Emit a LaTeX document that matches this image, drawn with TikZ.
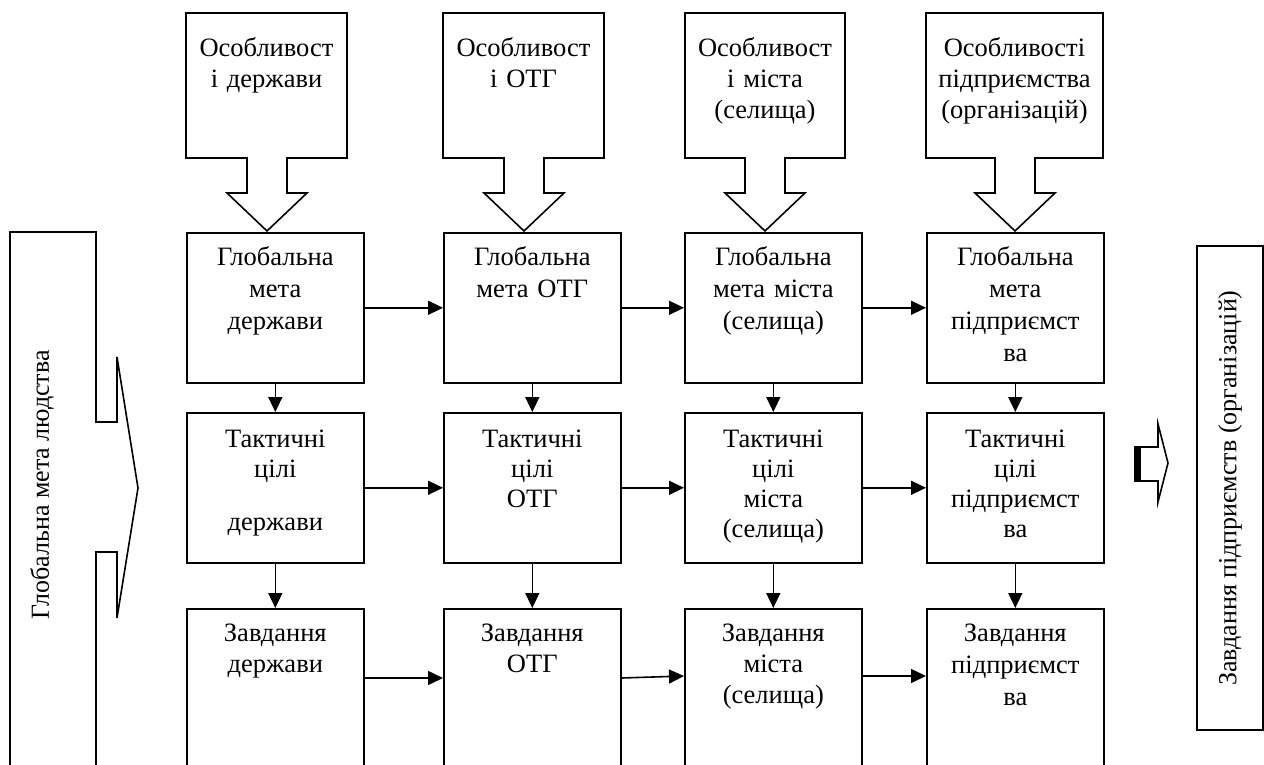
\documentclass[tikz,border=0pt]{standalone}
\usepackage{fontspec}
\setmainfont{Liberation Serif}
\usetikzlibrary{arrows.meta,positioning}

\tikzset{
  caja/.style={draw, line width=1.6pt, minimum width=177pt, minimum height=150pt, inner sep=0pt, anchor=north west},
  texto/.style={align=center, text width=175pt, anchor=base, inner sep=0pt, font=\fontsize{26.5}{31}\selectfont},
  flecha/.style={-{Triangle[length=15pt,width=14pt]}, line width=1.6pt},
  forma/.style={line width=1.6pt, line join=miter},
}

\begin{document}
\begin{tikzpicture}[x=1pt,y=-1pt]
\useasboundingbox (0,0) rectangle (1264,765);
\clip (0,0) rectangle (1264,765);

% Cajas principales (fila 1, 2 y 3)
\node[caja] (meta1) at (186,232) {};
\node[caja] (meta2) at (443,232) {};
\node[caja] (meta3) at (684,232) {};
\node[caja] (meta4) at (926,232) {};
\node[caja] (tact1) at (186,412) {};
\node[caja] (tact2) at (443,412) {};
\node[caja] (tact3) at (684,412) {};
\node[caja] (tact4) at (926,412) {};
\node[caja, minimum height=175pt] (zav1) at (186,608) {};
\node[caja, minimum height=175pt] (zav2) at (443,608) {};
\node[caja, minimum height=175pt] (zav3) at (684,608) {};
\node[caja, minimum height=175pt] (zav4) at (926,608) {};

% Textos de las cajas
\node[texto, font=\fontsize{26.5}{32}\selectfont] (meta1t) at ([yshift=-33pt]meta1.north) {Глобальна\\мета\\держави};
\node[texto, font=\fontsize{26.5}{32}\selectfont] (meta2t) at ([yshift=-33pt]meta2.north) {Глобальна\\мета ОТГ};
\node[texto, font=\fontsize{26.5}{32}\selectfont] (meta3t) at ([yshift=-33pt]meta3.north) {Глобальна\\мета міста\\(селища)};
\node[texto, font=\fontsize{26.5}{32}\selectfont] (meta4t) at ([yshift=-33pt]meta4.north) {Глобальна\\мета\\підприємст\\ва};
\node[texto, font=\fontsize{26.5}{30}\selectfont] (tact1t) at ([yshift=-35pt]tact1.north) {Тактичні\\цілі\\[23pt]держави};
\node[texto, font=\fontsize{26.5}{30}\selectfont] (tact2t) at ([yshift=-35pt]tact2.north) {Тактичні\\цілі\\ОТГ};
\node[texto, font=\fontsize{26.5}{30}\selectfont] (tact3t) at ([yshift=-35pt]tact3.north) {Тактичні\\цілі\\міста\\(селища)};
\node[texto, font=\fontsize{26.5}{30}\selectfont] (tact4t) at ([yshift=-35pt]tact4.north) {Тактичні\\цілі\\підприємст\\ва};
\node[texto] (zav1t) at ([yshift=-33pt]zav1.north) {Завдання\\держави};
\node[texto] (zav2t) at ([yshift=-33pt]zav2.north) {Завдання\\ОТГ};
\node[texto] (zav3t) at ([yshift=-33pt]zav3.north) {Завдання\\міста\\(селища)};
\node[texto, font=\fontsize{26.5}{32}\selectfont] (zav4t) at ([yshift=-33pt]zav4.north) {Завдання\\підприємст\\ва};

% Flechas verticales
\draw[flecha] (meta1) -- (tact1);
\draw[flecha] (meta2) -- (tact2);
\draw[flecha] (meta3) -- (tact3);
\draw[flecha] (meta4) -- (tact4);
\draw[flecha] (tact1) -- (zav1.north);
\draw[flecha] (tact2) -- (zav2.north);
\draw[flecha] (tact3) -- (zav3.north);
\draw[flecha] (tact4) -- (zav4.north);

% Flechas horizontales
\draw[flecha] (meta1) -- (meta2);
\draw[flecha] (meta2) -- (meta3);
\draw[flecha] (meta3) -- (meta4);
\draw[flecha] (tact1) -- (tact2);
\draw[flecha] (tact2) -- (tact3);
\draw[flecha] (tact3) -- (tact4);
\draw[flecha] ([yshift=-70pt]zav1.north east) -- ([yshift=-70pt]zav2.north west);
\draw[flecha] ([yshift=-70pt]zav2.north east) -- ([yshift=-68pt]zav3.north west);
\draw[flecha] ([yshift=-68pt]zav3.north east) -- ([yshift=-68pt]zav4.north west);

% Llamadas de arriba (rectangulo con flecha hacia abajo)
\draw[forma] (186,158) -- (186,13) -- (347,13) -- (347,158) -- (287,158) -- (287,193) -- (307,193)
  -- (267,231) -- (227,193) -- (247,193) -- (247,158) -- cycle;
\draw[forma] (443,158) -- (443,13) -- (604,13) -- (604,158) -- (544,158) -- (544,193) -- (564,193)
  -- (524,231) -- (484,193) -- (504,193) -- (504,158) -- cycle;
\draw[forma] (685,158) -- (685,13) -- (845,13) -- (845,158) -- (785,158) -- (785,193) -- (805,193)
  -- (765,231) -- (725,193) -- (745,193) -- (745,158) -- cycle;
\draw[forma] (926,158) -- (926,13) -- (1103,13) -- (1103,158) -- (1035,158) -- (1035,193) -- (1055,193)
  -- (1015,231) -- (975,193) -- (995,193) -- (995,158) -- cycle;
\node[texto, text width=158pt] (osob1) at (266.5,57) {Особливост\\і держави};
\node[texto, text width=158pt] (osob2) at (523.5,57) {Особливост\\і ОТГ};
\node[texto, text width=158pt] (osob3) at (765,57) {Особливост\\і міста\\(селища)};
\node[texto] (osob4) at (1014.5,57) {Особливості\\підприємства\\(організацій)};

% Llamada de la izquierda con flecha
\draw[forma] (96,780) -- (96,552) -- (117,552) -- (117,618) -- (138,488) -- (117,357)
  -- (117,422) -- (96,422) -- (96,232) -- (10,232) -- (10,780);
\node[rotate=90, font=\fontsize{26}{31}\selectfont] (humanidad) at (42,485) {Глобальна мета людства};

% Flecha pequena y caja de la derecha
\draw[forma] (1135,447) -- (1158,447) -- (1158,424) -- (1168,463) -- (1158,502) -- (1158,481) -- (1135,481) -- cycle;
\fill (1135,447) rectangle (1141,481);
\node[draw, line width=1.6pt, rotate=90, minimum width=484pt, minimum height=66pt,
  font=\fontsize{26}{31}\selectfont] (zavd) at (1230,488) {Завдання підприємств (організацій)};
\end{tikzpicture}
\end{document}
